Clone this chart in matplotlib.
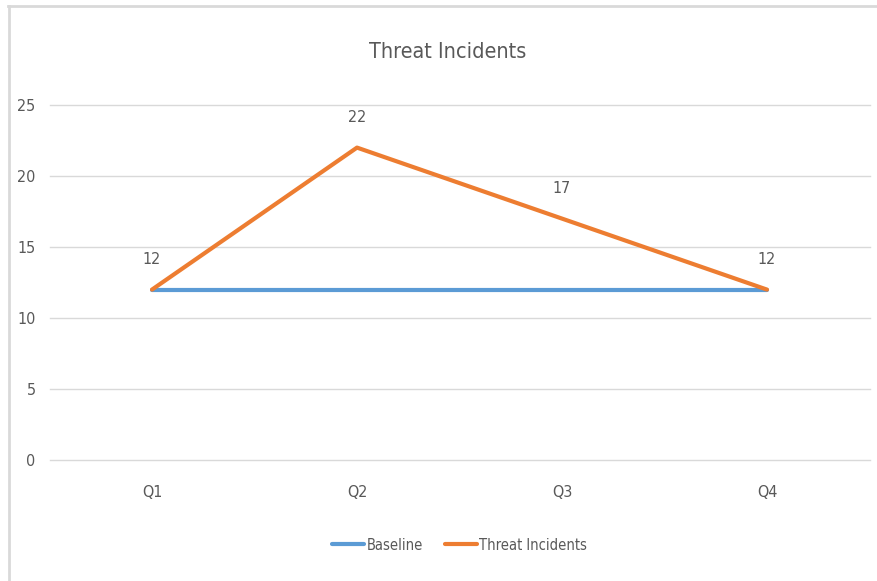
import matplotlib
matplotlib.use('Agg')
import matplotlib.pyplot as plt
from matplotlib.lines import Line2D

# Calibri Light is not available; a condensed sans comes closest
plt.rcParams['font.family'] = ['DejaVu Sans']
plt.rcParams['font.stretch'] = 'condensed'

quarters = ['Q1', 'Q2', 'Q3', 'Q4']
baseline = [12, 12, 12, 12]
incidents = [12, 22, 17, 12]

BLUE = '#5B9BD5'
ORANGE = '#ED7D31'
TXT = '#595959'
GRID = '#D9D9D9'

fig = plt.figure(figsize=(8.77, 5.81), dpi=100)
ax = fig.add_axes([49.5 / 877, 121 / 581, 820 / 877, 355 / 581])

x = range(len(quarters))
ax.plot(x, baseline, color=BLUE, lw=3, solid_capstyle='round', label='Baseline', zorder=3)
ax.plot(x, incidents, color=ORANGE, lw=3, solid_capstyle='round', label='Threat Incidents', zorder=4)

for i, v in zip(x, incidents):
    ax.annotate(str(v), (i, v), xytext=(0, 16), textcoords='offset points',
                ha='center', va='bottom', fontsize=11.5, color=TXT)

ax.set_xlim(-0.5, len(quarters) - 0.5)
ax.set_ylim(0, 25)
ax.set_yticks(range(0, 26, 5))
ax.set_xticks(list(x))
ax.set_xticklabels(quarters)
ax.tick_params(axis='both', length=0, labelsize=11.5, labelcolor=TXT)
ax.tick_params(axis='x', pad=18)
ax.tick_params(axis='y', pad=10)
ax.grid(axis='y', color=GRID, lw=1)
for gl in ax.get_ygridlines():
    gl.set_clip_on(False)
ax.set_axisbelow(True)
for s in ax.spines.values():
    s.set_visible(False)

fig.text(448 / 877, 1 - 52 / 581, 'Threat Incidents', ha='center', va='center',
         fontsize=15.5, color=TXT)

ax.legend(loc='center', bbox_to_anchor=(0.5, (581 - 545 - 121) / 355), ncol=2,
          frameon=False, fontsize=10.5, labelcolor=TXT, handlelength=2.2,
          handletextpad=0.15, columnspacing=1.5)

# chart frame (top and left edges visible in the screenshot)
fig.add_artist(Line2D([8 / 877, 1], [1 - 6 / 581, 1 - 6 / 581], transform=fig.transFigure,
                      color='#D9D9D9', lw=2))
fig.add_artist(Line2D([9 / 877, 9 / 877], [0, 1 - 6 / 581], transform=fig.transFigure,
                      color='#D9D9D9', lw=2))

fig.savefig('out.png', dpi=100)
